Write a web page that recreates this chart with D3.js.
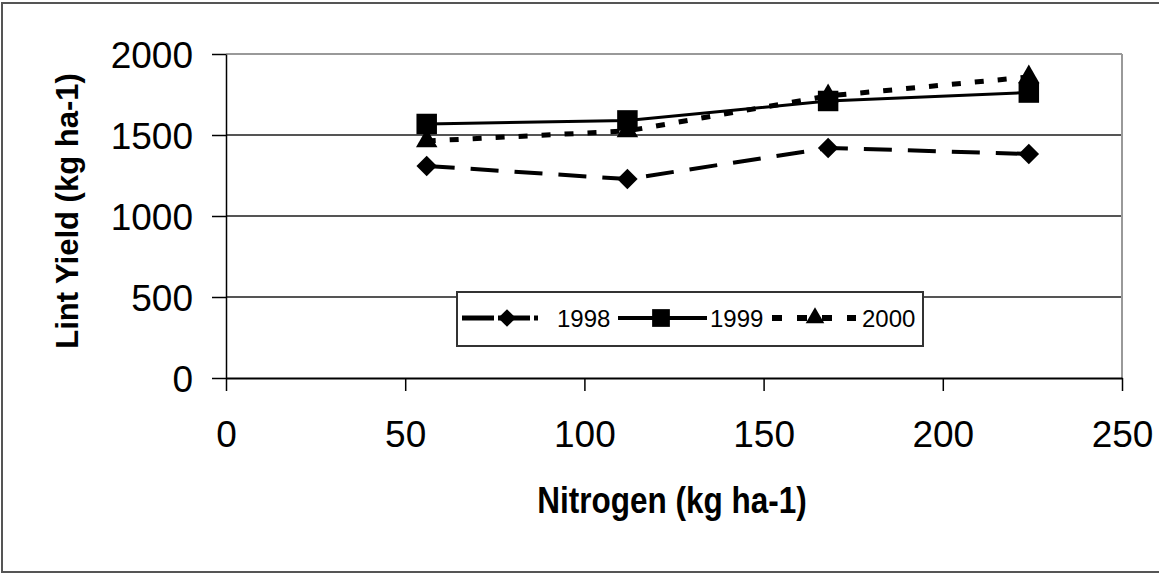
<!DOCTYPE html>
<html>
<head>
<meta charset="utf-8">
<script src="https://cdn.jsdelivr.net/npm/d3@7"></script>
<style>
  body { margin: 0; background: #fff; }
  text { font-family: "Liberation Sans", Arial, sans-serif; fill: #000; }
</style>
</head>
<body>
<svg id="chart" width="1159" height="575"></svg>
<script>
// nitrogen rates (kg ha-1)
const nitrogen = [56, 112, 168, 224]
const yield1998 = [1309, 1228, 1420, 1383]
const yield1999 = [1568, 1590, 1710, 1762]
const yield2000 = [1463, 1525, 1741, 1858]
const seriesNames = ['1998', '1999', '2000']
const xTicks = [0, 50, 100, 150, 200, 250]
const yTicks = [0, 500, 1000, 1500, 2000]

const svg = d3.select('#chart')

// outer frame
svg.append('rect')
  .attr('x', 2).attr('y', 3)
  .attr('width', 1162).attr('height', 569)
  .attr('fill', 'none')
  .attr('stroke', '#555')
  .attr('stroke-width', 2)

const x = d3.scaleLinear().domain([0, 250]).range([226, 1122])
const y = d3.scaleLinear().domain([0, 2000]).range([378, 54])

// gridlines
svg.append('g').selectAll('line')
  .data(yTicks.filter(d => d > 0))
  .join('line')
  .attr('x1', x(0)).attr('x2', x(250))
  .attr('y1', d => y(d)).attr('y2', d => y(d))
  .attr('stroke', d => d == 2000 ? '#999' : '#555')
  .attr('stroke-width', 2)

// right edge of plot area
svg.append('line')
  .attr('x1', x(250)).attr('x2', x(250))
  .attr('y1', y(2000)).attr('y2', y(0))
  .attr('stroke', '#999')
  .attr('stroke-width', 2)

const yAxis = svg.append('g')
  .attr('transform', `translate(${x(0)},0)`)
  .call(d3.axisLeft(y).tickValues(yTicks).tickFormat(d3.format('d'))
    .tickSize(14).tickSizeOuter(0).tickPadding(19))
yAxis.select('.domain').attr('stroke', '#000').attr('stroke-width', 1.5)
yAxis.selectAll('.tick line').attr('stroke', '#000').attr('stroke-width', 1.5)
yAxis.selectAll('text').attr('font-size', 37).attr('dy', '0.36em')
  .attr('font-family', '"Liberation Sans", Arial, sans-serif').attr('fill', '#000')

const xAxis = svg.append('g')
  .attr('transform', `translate(0,${y(0)})`)
  .call(d3.axisBottom(x).tickValues(xTicks).tickFormat(d3.format('d'))
    .tickSize(13).tickSizeOuter(0).tickPadding(30))
xAxis.select('.domain').attr('stroke', '#000').attr('stroke-width', 2)
xAxis.selectAll('.tick line').attr('stroke', '#000').attr('stroke-width', 1.5)
xAxis.selectAll('text').attr('font-size', 37)
  .attr('font-family', '"Liberation Sans", Arial, sans-serif').attr('fill', '#000')

// axis titles
svg.append('text')
  .attr('transform', 'translate(672,513) scale(1,1.2)')
  .attr('text-anchor', 'middle')
  .attr('font-size', 31.5)
  .attr('font-weight', 'bold')
  .text('Nitrogen (kg ha-1)')

svg.append('text')
  .attr('transform', 'translate(78,211) rotate(-90)')
  .attr('text-anchor', 'middle')
  .attr('font-size', 31)
  .attr('font-weight', 'bold')
  .text('Lint Yield (kg ha-1)')

// series styles; the diamond is a square turned 45 degrees
const styles = {
  '1998': { values: yield1998, dash: '28,16', width: 4, symbol: d3.symbolSquare, size: 210, rot: 45 },
  '1999': { values: yield1999, dash: null, width: 3, symbol: d3.symbolSquare, size: 420, rot: 0 },
  '2000': { values: yield2000, dash: '9,14', width: 5, symbol: d3.symbolTriangle, size: 200, rot: 0 }
}

const line = d3.line()
  .x(d => x(d[0]))
  .y(d => y(d[1]))

// draw 2000 first so the squares of 1999 sit on top
;['2000', '1999', '1998'].forEach(function(name) {
  const s = styles[name]
  const pts = nitrogen.map((n, i) => [n, s.values[i]])
  svg.append('path')
    .datum(pts)
    .attr('d', line)
    .attr('fill', 'none')
    .attr('stroke', '#000')
    .attr('stroke-width', s.width)
    .attr('stroke-dasharray', s.dash)
  svg.append('g').selectAll('path')
    .data(pts)
    .join('path')
    .attr('transform', d => `translate(${x(d[0])},${y(d[1])}) rotate(${s.rot})`)
    .attr('d', d3.symbol().type(s.symbol).size(s.size))
    .attr('fill', '#000')
})

// legend
const legend = svg.append('g')
legend.append('rect')
  .attr('x', 457).attr('y', 292)
  .attr('width', 466).attr('height', 54)
  .attr('fill', '#fff')
  .attr('stroke', '#333')
  .attr('stroke-width', 2)

const legendItems = [
  { name: '1998', x1: 462, x2: 538, mx: 507, tx: 557 },
  { name: '1999', x1: 618, x2: 707, mx: 661, tx: 710 },
  { name: '2000', x1: 772, x2: 856, mx: 815, tx: 862 }
]
const ly = 318
legendItems.forEach(function(it) {
  const s = styles[it.name]
  legend.append('line')
    .attr('x1', it.x1).attr('x2', it.x2)
    .attr('y1', ly).attr('y2', ly)
    .attr('stroke', '#000')
    .attr('stroke-width', s.width + 1)
    .attr('stroke-dasharray', it.name == '1998' ? '32,4' : (it.name == '2000' ? '10,15' : null))
  legend.append('path')
    .attr('transform', `translate(${it.mx},${ly}) rotate(${s.rot})`)
    .attr('d', d3.symbol().type(s.symbol).size(s.size * 0.75))
    .attr('fill', '#000')
  legend.append('text')
    .attr('x', it.tx).attr('y', ly + 9)
    .attr('font-size', 24)
    .text(it.name)
})
</script>
</body>
</html>
